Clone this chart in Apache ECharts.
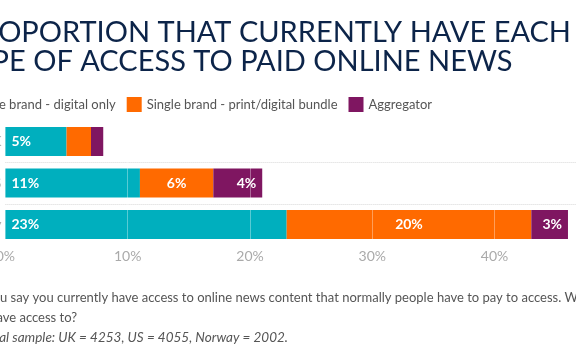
<!DOCTYPE html>
<html>
<head>
<meta charset="utf-8">
<script src="https://cdn.jsdelivr.net/npm/echarts@6/dist/echarts.min.js"></script>
<style>
html,body{margin:0;padding:0;background:#fff;}
#chart{width:576px;height:356px;}
</style>
</head>
<body>
<div id="chart"></div>
<script>
// ---- data ----
const categories = ['UK', 'US', 'Norway'];
const seriesNames = ['Single brand - digital only', 'Single brand - print/digital bundle', 'Aggregator'];
const digitalOnly = [5, 11, 23];
const printDigitalBundle = [2, 6, 20];
const aggregator = [1, 4, 3];
const xTicks = [0, 10, 20, 30, 40, 50];
const titleLines = ['PROPORTION THAT CURRENTLY HAVE EACH', 'TYPE OF ACCESS TO PAID ONLINE NEWS'];
const noteLines = [
  'You say you currently have access to online news content that normally people have to pay to access. Which',
  'do you have access to?',
  'Base: Total sample: UK = 4253, US = 4055, Norway = 2002.'
];

const colors = ['#00AFBE', '#FF6A00', '#7F1661'];
const FONT = 'Lato';

function measure(text, font) {
  const c = document.createElement('canvas').getContext('2d');
  c.font = font;
  return c.measureText(text).width;
}

const chart = echarts.init(document.getElementById('chart'), null, {renderer: 'canvas'});

function labelFor(pos) {
  return {
    show: true,
    position: pos,
    distance: 6,
    color: '#fff',
    fontFamily: FONT,
    fontSize: 14,
    fontWeight: 'bold',
    formatter: p => (p.value >= 3 ? p.value + '%' : '')
  };
}

const vals = [digitalOnly, printDigitalBundle, aggregator];
const positions = ['insideLeft', 'inside', 'insideRight'];

const series = vals.map((arr, i) => ({
  name: seriesNames[i],
  type: 'bar',
  stack: 'total',
  barWidth: 29,
  data: arr,
  itemStyle: {color: colors[i]},
  label: labelFor(positions[i])
}));
series[2].markLine = {
  silent: true,
  symbol: 'none',
  label: {show: false},
  lineStyle: {color: 'rgba(255,255,255,0.35)', type: 'solid', width: 1},
  data: xTicks.slice(1, 5).map(v => ({xAxis: v}))
};

const noteFont = '13px ' + FONT;
const line1Offset = measure('Yo', noteFont);

chart.setOption({
  animation: false,
  color: colors,
  grid: {left: 5.4, width: 611.5, top: 120.75, height: 124.5, containLabel: false, outerBoundsMode: 'none'},
  legend: {
    right: 144,
    top: 97,
    width: 2000,
    padding: 0,
    itemWidth: 15,
    itemHeight: 15,
    itemGap: 11,
    icon: 'rect',
    textStyle: {fontFamily: FONT, fontSize: 13, color: '#555'},
    data: seriesNames
  },
  xAxis: {
    type: 'value',
    min: 0, max: 50, interval: 10,
    axisLine: {show: false},
    axisTick: {show: false},
    splitLine: {show: false},
    axisLabel: {formatter: '{value}%', color: '#aaa', fontFamily: FONT, fontSize: 14, margin: 4}
  },
  yAxis: {
    type: 'category',
    data: categories,
    inverse: true,
    axisLine: {show: false},
    axisTick: {show: false},
    axisLabel: {color: '#aaa', fontFamily: FONT, fontSize: 14, margin: 4},
    splitLine: {show: true, showMinLine: false, showMaxLine: false, lineStyle: {color: '#d8d8d8', type: 'dotted', width: 1}}
  },
  series: series,
  graphic: [
    {type: 'text', x: 571, y: 33, style: {text: titleLines[0], font: '29px ' + FONT, fill: '#0C2449', align: 'right', verticalAlign: 'middle'}},
    {type: 'text', x: 512.5, y: 62, style: {text: titleLines[1], font: '29px ' + FONT, fill: '#0C2449', align: 'right', verticalAlign: 'middle'}},
    {type: 'text', x: -line1Offset, y: 298, style: {text: noteLines[0], font: noteFont, fill: '#555', align: 'left', verticalAlign: 'middle'}},
    {type: 'text', x: 77, y: 318, style: {text: noteLines[1], font: noteFont, fill: '#555', align: 'right', verticalAlign: 'middle'}},
    {type: 'text', x: 288, y: 338, style: {text: noteLines[2], font: 'italic 13.5px ' + FONT, fill: '#555', align: 'right', verticalAlign: 'middle'}}
  ]
});
</script>
</body>
</html>
